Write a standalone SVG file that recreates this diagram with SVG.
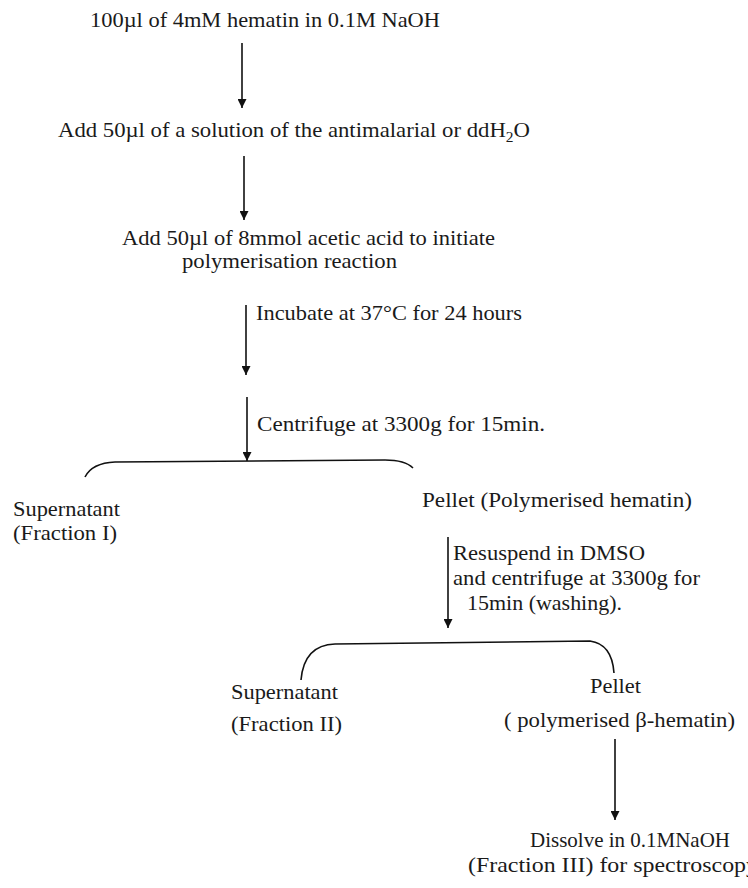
<svg xmlns="http://www.w3.org/2000/svg" width="748" height="888" viewBox="0 0 748 888">
<style>
text{font-family:"Liberation Serif","Times New Roman",serif;font-size:22px;fill:#1a1a1a}
.ln{stroke:#111;stroke-width:1.6;fill:none}
</style>
<defs>
<marker id="tip" viewBox="0 0 10 10" refX="10" refY="5" markerWidth="9" markerHeight="9" markerUnits="userSpaceOnUse" orient="auto">
<path d="M0,0 L10,5 L0,10 Z" fill="#111"/>
</marker>
</defs>
<rect width="748" height="888" fill="#fff"/>
<g id="n1"><text x="90" y="27" textLength="350" lengthAdjust="spacingAndGlyphs">100µl of 4mM hematin in 0.1M NaOH</text></g>
<g id="n2"><text x="58" y="137" textLength="472" lengthAdjust="spacingAndGlyphs">Add 50µl of a solution of the antimalarial or ddH<tspan font-size="15" dy="5">2</tspan><tspan dy="-5">O</tspan></text></g>
<g id="n3"><text x="122" y="245" textLength="373" lengthAdjust="spacingAndGlyphs">Add 50µl of 8mmol acetic acid to initiate</text><text x="182" y="268" textLength="215" lengthAdjust="spacingAndGlyphs">polymerisation reaction</text></g>
<g id="n4"><text x="13" y="516" textLength="107" lengthAdjust="spacingAndGlyphs">Supernatant</text><text x="13" y="540" textLength="104" lengthAdjust="spacingAndGlyphs">(Fraction I)</text></g>
<g id="n5"><text x="422" y="507" textLength="270" lengthAdjust="spacingAndGlyphs">Pellet  (Polymerised hematin)</text></g>
<g id="n6"><text x="231" y="699" textLength="107" lengthAdjust="spacingAndGlyphs">Supernatant</text><text x="231" y="731" textLength="111" lengthAdjust="spacingAndGlyphs">(Fraction II)</text></g>
<g id="n7"><text x="590" y="693" textLength="51" lengthAdjust="spacingAndGlyphs">Pellet</text><text x="504" y="727" textLength="231" lengthAdjust="spacingAndGlyphs">( polymerised β-hematin)</text></g>
<g id="n8"><text x="530" y="847" textLength="200" lengthAdjust="spacingAndGlyphs">Dissolve in 0.1MNaOH</text><text x="468" y="872" textLength="290" lengthAdjust="spacingAndGlyphs">(Fraction III) for spectroscopy</text></g>
<g id="connectors">
<line class="ln" x1="242" y1="43" x2="242" y2="108" marker-end="url(#tip)"/>
<line class="ln" x1="244" y1="156" x2="244" y2="220" marker-end="url(#tip)"/>
<line class="ln" x1="246" y1="305" x2="246" y2="375" marker-end="url(#tip)"/>
<text x="256" y="320" textLength="266" lengthAdjust="spacingAndGlyphs">Incubate at 37°C for 24 hours</text>
<line class="ln" x1="247" y1="397" x2="247" y2="461" marker-end="url(#tip)"/>
<text x="257" y="431" textLength="288" lengthAdjust="spacingAndGlyphs">Centrifuge at 3300g for 15min.</text>
<path class="ln" d="M85,477 Q92,463 115,462 L385,460 Q405,460 413,468"/>
<line class="ln" x1="448" y1="537" x2="448" y2="628" marker-end="url(#tip)"/>
<text x="453" y="560" textLength="192" lengthAdjust="spacingAndGlyphs">Resuspend in DMSO</text>
<text x="453" y="585" textLength="247" lengthAdjust="spacingAndGlyphs">and centrifuge at 3300g for</text>
<text x="467" y="610" textLength="155" lengthAdjust="spacingAndGlyphs">15min (washing).</text>
<path class="ln" d="M301,680 Q304,645 335,644 L590,641 Q612,644 614,673"/>
<line class="ln" x1="615" y1="739" x2="615" y2="820" marker-end="url(#tip)"/>
</g>
</svg>
